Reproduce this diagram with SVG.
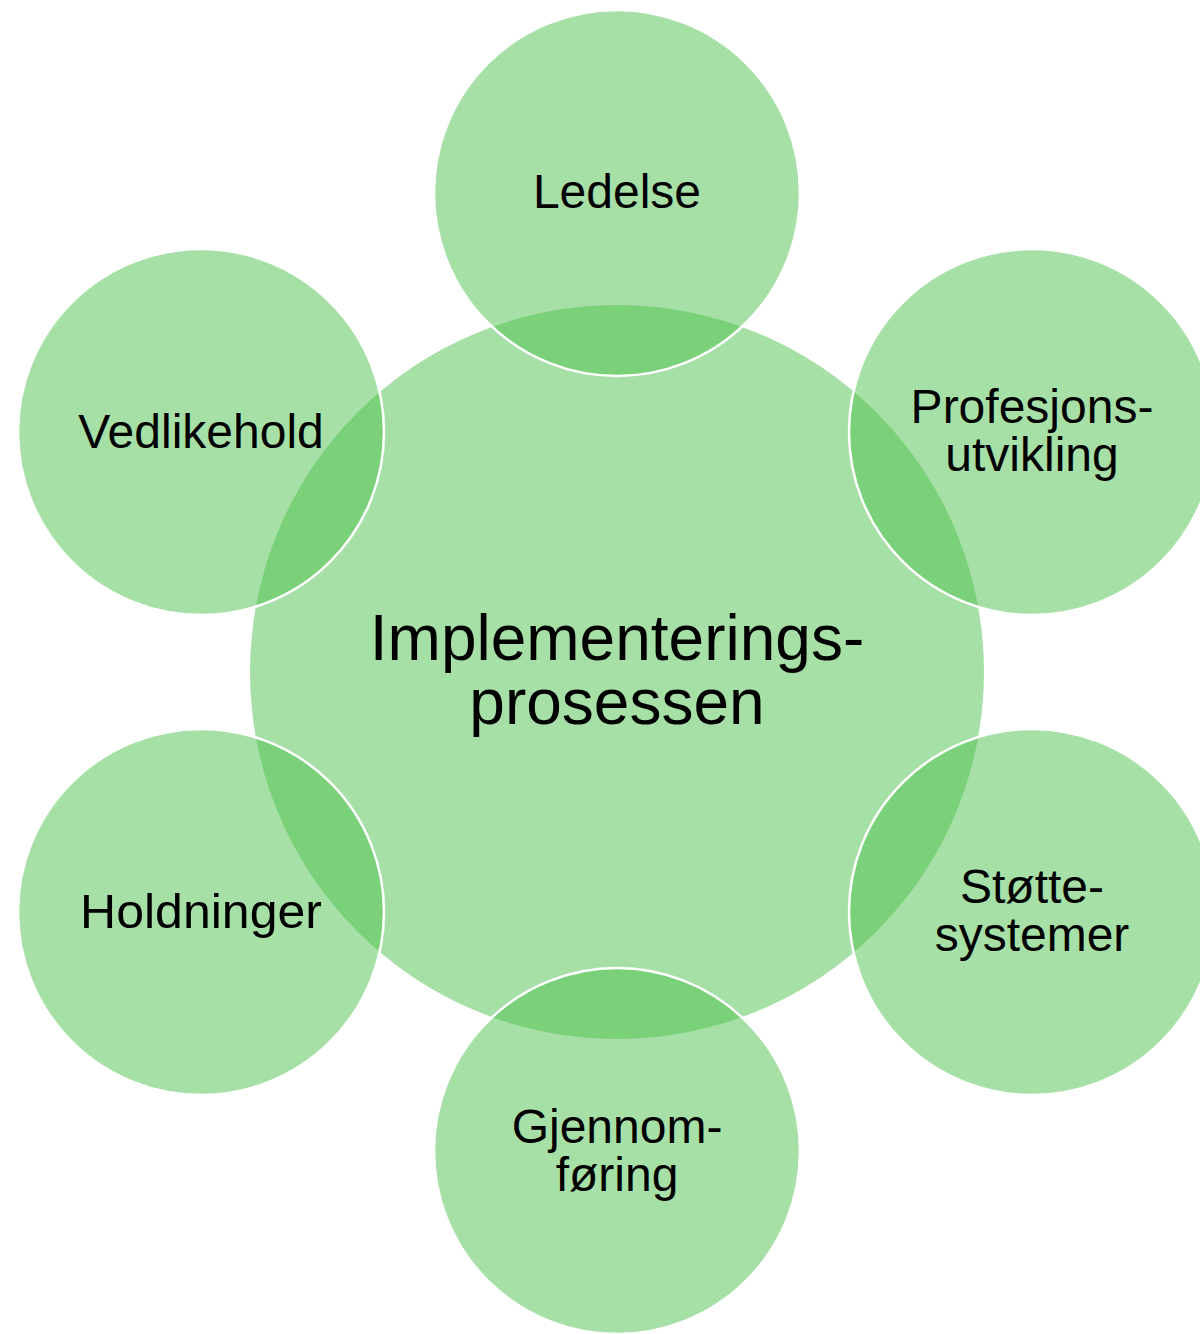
<svg xmlns="http://www.w3.org/2000/svg" width="1200" height="1334" viewBox="0 0 1200 1334">
<style>
.c{fill:rgb(78,194,78);fill-opacity:0.5}
.s{stroke:#fff;stroke-width:2.5}
.t{font-family:"Liberation Sans",Arial,sans-serif;fill:#000;text-anchor:middle}
.sm{font-size:48px}
.lg{font-size:64px}
</style>
<rect width="1200" height="1334" fill="#fff"/>
<g id="center">
<circle class="c" cx="617" cy="672" r="367"/>
</g>
<g id="ledelse">
<circle class="c s" cx="617" cy="193" r="183"/>
<text class="t sm" x="617" y="208">Ledelse</text>
</g>
<g id="profesjonsutvikling">
<circle class="c s" cx="1032" cy="432" r="183"/>
<text class="t sm" x="1032" y="423">Profesjons-</text>
<text class="t sm" x="1032" y="471">utvikling</text>
</g>
<g id="stottesystemer">
<circle class="c s" cx="1032" cy="912" r="183"/>
<text class="t sm" x="1032" y="903">Støtte-</text>
<text class="t sm" x="1032" y="951">systemer</text>
</g>
<g id="gjennomforing">
<circle class="c s" cx="617" cy="1151" r="183"/>
<text class="t sm" x="617" y="1143">Gjennom-</text>
<text class="t sm" x="617" y="1191">føring</text>
</g>
<g id="holdninger">
<circle class="c s" cx="201" cy="912" r="183"/>
<text class="t sm" x="201" y="928" textLength="242" lengthAdjust="spacingAndGlyphs">Holdninger</text>
</g>
<g id="vedlikehold">
<circle class="c s" cx="201" cy="432" r="183"/>
<text class="t sm" x="201" y="448">Vedlikehold</text>
</g>
<g id="center-label">
<text class="t lg" x="617" y="660">Implementerings-</text>
<text class="t lg" x="617" y="724">prosessen</text>
</g>
<g id="connectors"/>
</svg>
